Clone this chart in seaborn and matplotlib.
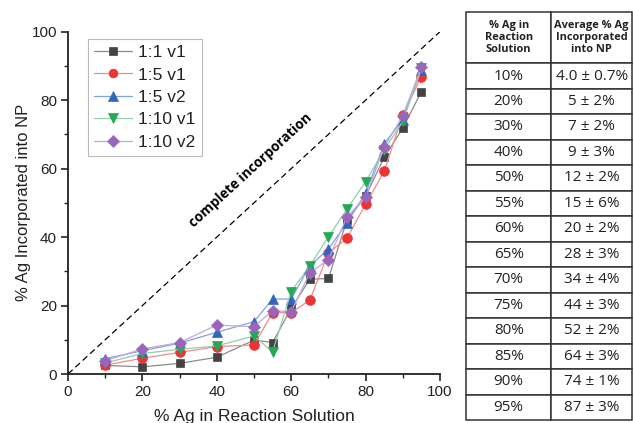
import matplotlib
matplotlib.use("Agg")
import matplotlib.pyplot as plt
import seaborn as sns
import numpy as np

sns.set_theme(style="white")
plt.rcParams['font.family'] = ['Liberation Sans', 'DejaVu Sans']

# ---- data ----
ag_solution = [10, 20, 30, 40, 50, 55, 60, 65, 70, 75, 80, 85, 90, 95]
s_1_1_v1  = [2.5, 2.1, 3.1, 4.9, 9.9, 9.2, 19.2, 27.7, 27.9, 45.0, 51.9, 63.3, 71.8, 82.5]
s_1_5_v1  = [2.6, 4.6, 6.3, 8.0, 8.5, 17.9, 17.9, 21.6, 35.3, 39.7, 49.6, 59.2, 75.7, 86.8]
s_1_5_v2  = [4.5, 6.8, 9.0, 12.2, 15.3, 21.9, 21.9, 31.6, 36.5, 44.2, 52.8, 67.3, 74.3, 88.9]
s_1_10_v1 = [3.2, 6.0, 7.2, 8.2, 11.1, 6.5, 24.1, 31.6, 40.1, 48.2, 56.2, 65.5, 73.8, 89.3]
s_1_10_v2 = [3.9, 7.3, 9.2, 14.3, 13.8, 18.5, 18.2, 29.6, 33.3, 46.0, 51.6, 66.3, 75.5, 89.7]

series_labels = ["1:1 v1", "1:5 v1", "1:5 v2", "1:10 v1", "1:10 v2"]
series_values = [s_1_1_v1, s_1_5_v1, s_1_5_v2, s_1_10_v1, s_1_10_v2]
markers = ["s", "o", "^", "v", "D"]
marker_colors = ["#444444", "#ee3333", "#3366bb", "#22aa55", "#9966bb"]
line_colors = ["#8a8a8a", "#f28a8a", "#7fa3e0", "#8fd0a8", "#c4a6e0"]
marker_sizes = [6.3, 7, 7.5, 7.5, 6.3]

table_header = ["% Ag in\nReaction\nSolution", "Average % Ag\nIncorporated\ninto NP"]
table_col1 = ["10%", "20%", "30%", "40%", "50%", "55%", "60%", "65%", "70%",
              "75%", "80%", "85%", "90%", "95%"]
table_col2 = ["4.0 ± 0.7%", "5 ± 2%", "7 ± 2%", "9 ± 3%", "12 ± 2%", "15 ± 6%",
              "20 ± 2%", "28 ± 3%", "34 ± 4%", "44 ± 3%", "52 ± 2%", "64 ± 3%",
              "74 ± 1%", "87 ± 3%"]

fig = plt.figure(figsize=(6.33, 4.23), dpi=100)
ax = fig.add_axes([68/633, 1-374/423, (440-68)/633, (374-31.7)/423])

# complete incorporation line
sns.lineplot(x=[0, 100], y=[0, 100], ax=ax, color="black", linestyle=(0, (5, 3)),
             linewidth=0.9, legend=False)

for lab, vals, m, mc, lc, ms in zip(series_labels, series_values, markers,
                                    marker_colors, line_colors, marker_sizes):
    sns.lineplot(x=ag_solution, y=vals, ax=ax, color=lc, linewidth=0.9,
                 marker=m, markersize=ms, markerfacecolor=mc, markeredgecolor=mc,
                 markeredgewidth=0.5, label=lab)

ax.set_xlim(0, 100)
ax.set_ylim(0, 100)
ax.set_xticks(np.arange(0, 101, 20))
ax.set_yticks(np.arange(0, 101, 20))
ax.set_xticks(np.arange(0, 101, 10), minor=True)
ax.set_yticks(np.arange(0, 101, 10), minor=True)
ax.tick_params(which="major", direction="out", length=5, width=1.2, labelsize=11,
               color="#222222", labelcolor="#222222", bottom=True, left=True, pad=3)
ax.tick_params(which="minor", direction="out", length=3, width=1.0, color="#222222",
               bottom=True, left=True)
for side in ["top", "right"]:
    ax.spines[side].set_visible(False)
for side in ["left", "bottom"]:
    ax.spines[side].set_color("#222222")
    ax.spines[side].set_linewidth(1.3)

ax.set_xlabel("% Ag in Reaction Solution", fontsize=12.5, color="#222222", labelpad=7)
ax.set_ylabel("% Ag Incorporated into NP", fontsize=12, color="#222222", labelpad=0)

ax.text(49.2, 59.6, "complete incorporation", rotation=42.6, rotation_mode="anchor",
        ha="center", va="center", fontsize=9.8, fontweight="bold",
        family=["Open Sans", "DejaVu Sans"], color="black")

leg = ax.legend(loc="upper left", bbox_to_anchor=(0.054, 0.979), borderaxespad=0,
                fontsize=12.5, frameon=True, fancybox=False, edgecolor="#aaaaaa",
                handlelength=2.2, borderpad=0.35, labelspacing=0.42,
                handletextpad=0.35, markerscale=0.9)
leg.get_frame().set_linewidth(0.8)
for t in leg.get_texts():
    t.set_color("#222222")

# ---- table ----
tax = fig.add_axes([466/633, 1-420/423, (632-466)/633, (420-11.7)/423])
tax.axis("off")
cell_text = [[a, b] for a, b in zip(table_col1, table_col2)]
tbl = tax.table(cellText=cell_text, colLabels=table_header, bbox=[0, 0, 1, 1],
                cellLoc="center", colWidths=[0.515, 0.485])
tbl.auto_set_font_size(False)
n_rows = len(table_col1)
hdr_h = 51.6
row_h = (420 - 63.3) / n_rows
for (r, c), cell in tbl.get_celld().items():
    cell.set_edgecolor("#333333")
    cell.set_linewidth(1.1)
    if r == 0:
        cell.set_height(hdr_h)
        cell.get_text().set_fontsize(7.9)
        cell.get_text().set_fontweight("bold")
        cell.get_text().set_linespacing(1.15)
    else:
        cell.set_height(row_h)
        cell.get_text().set_fontsize(11)
    cell.get_text().set_family(["Open Sans", "DejaVu Sans"])
    cell.get_text().set_color("#222222")

fig.savefig("out.png", dpi=100)
